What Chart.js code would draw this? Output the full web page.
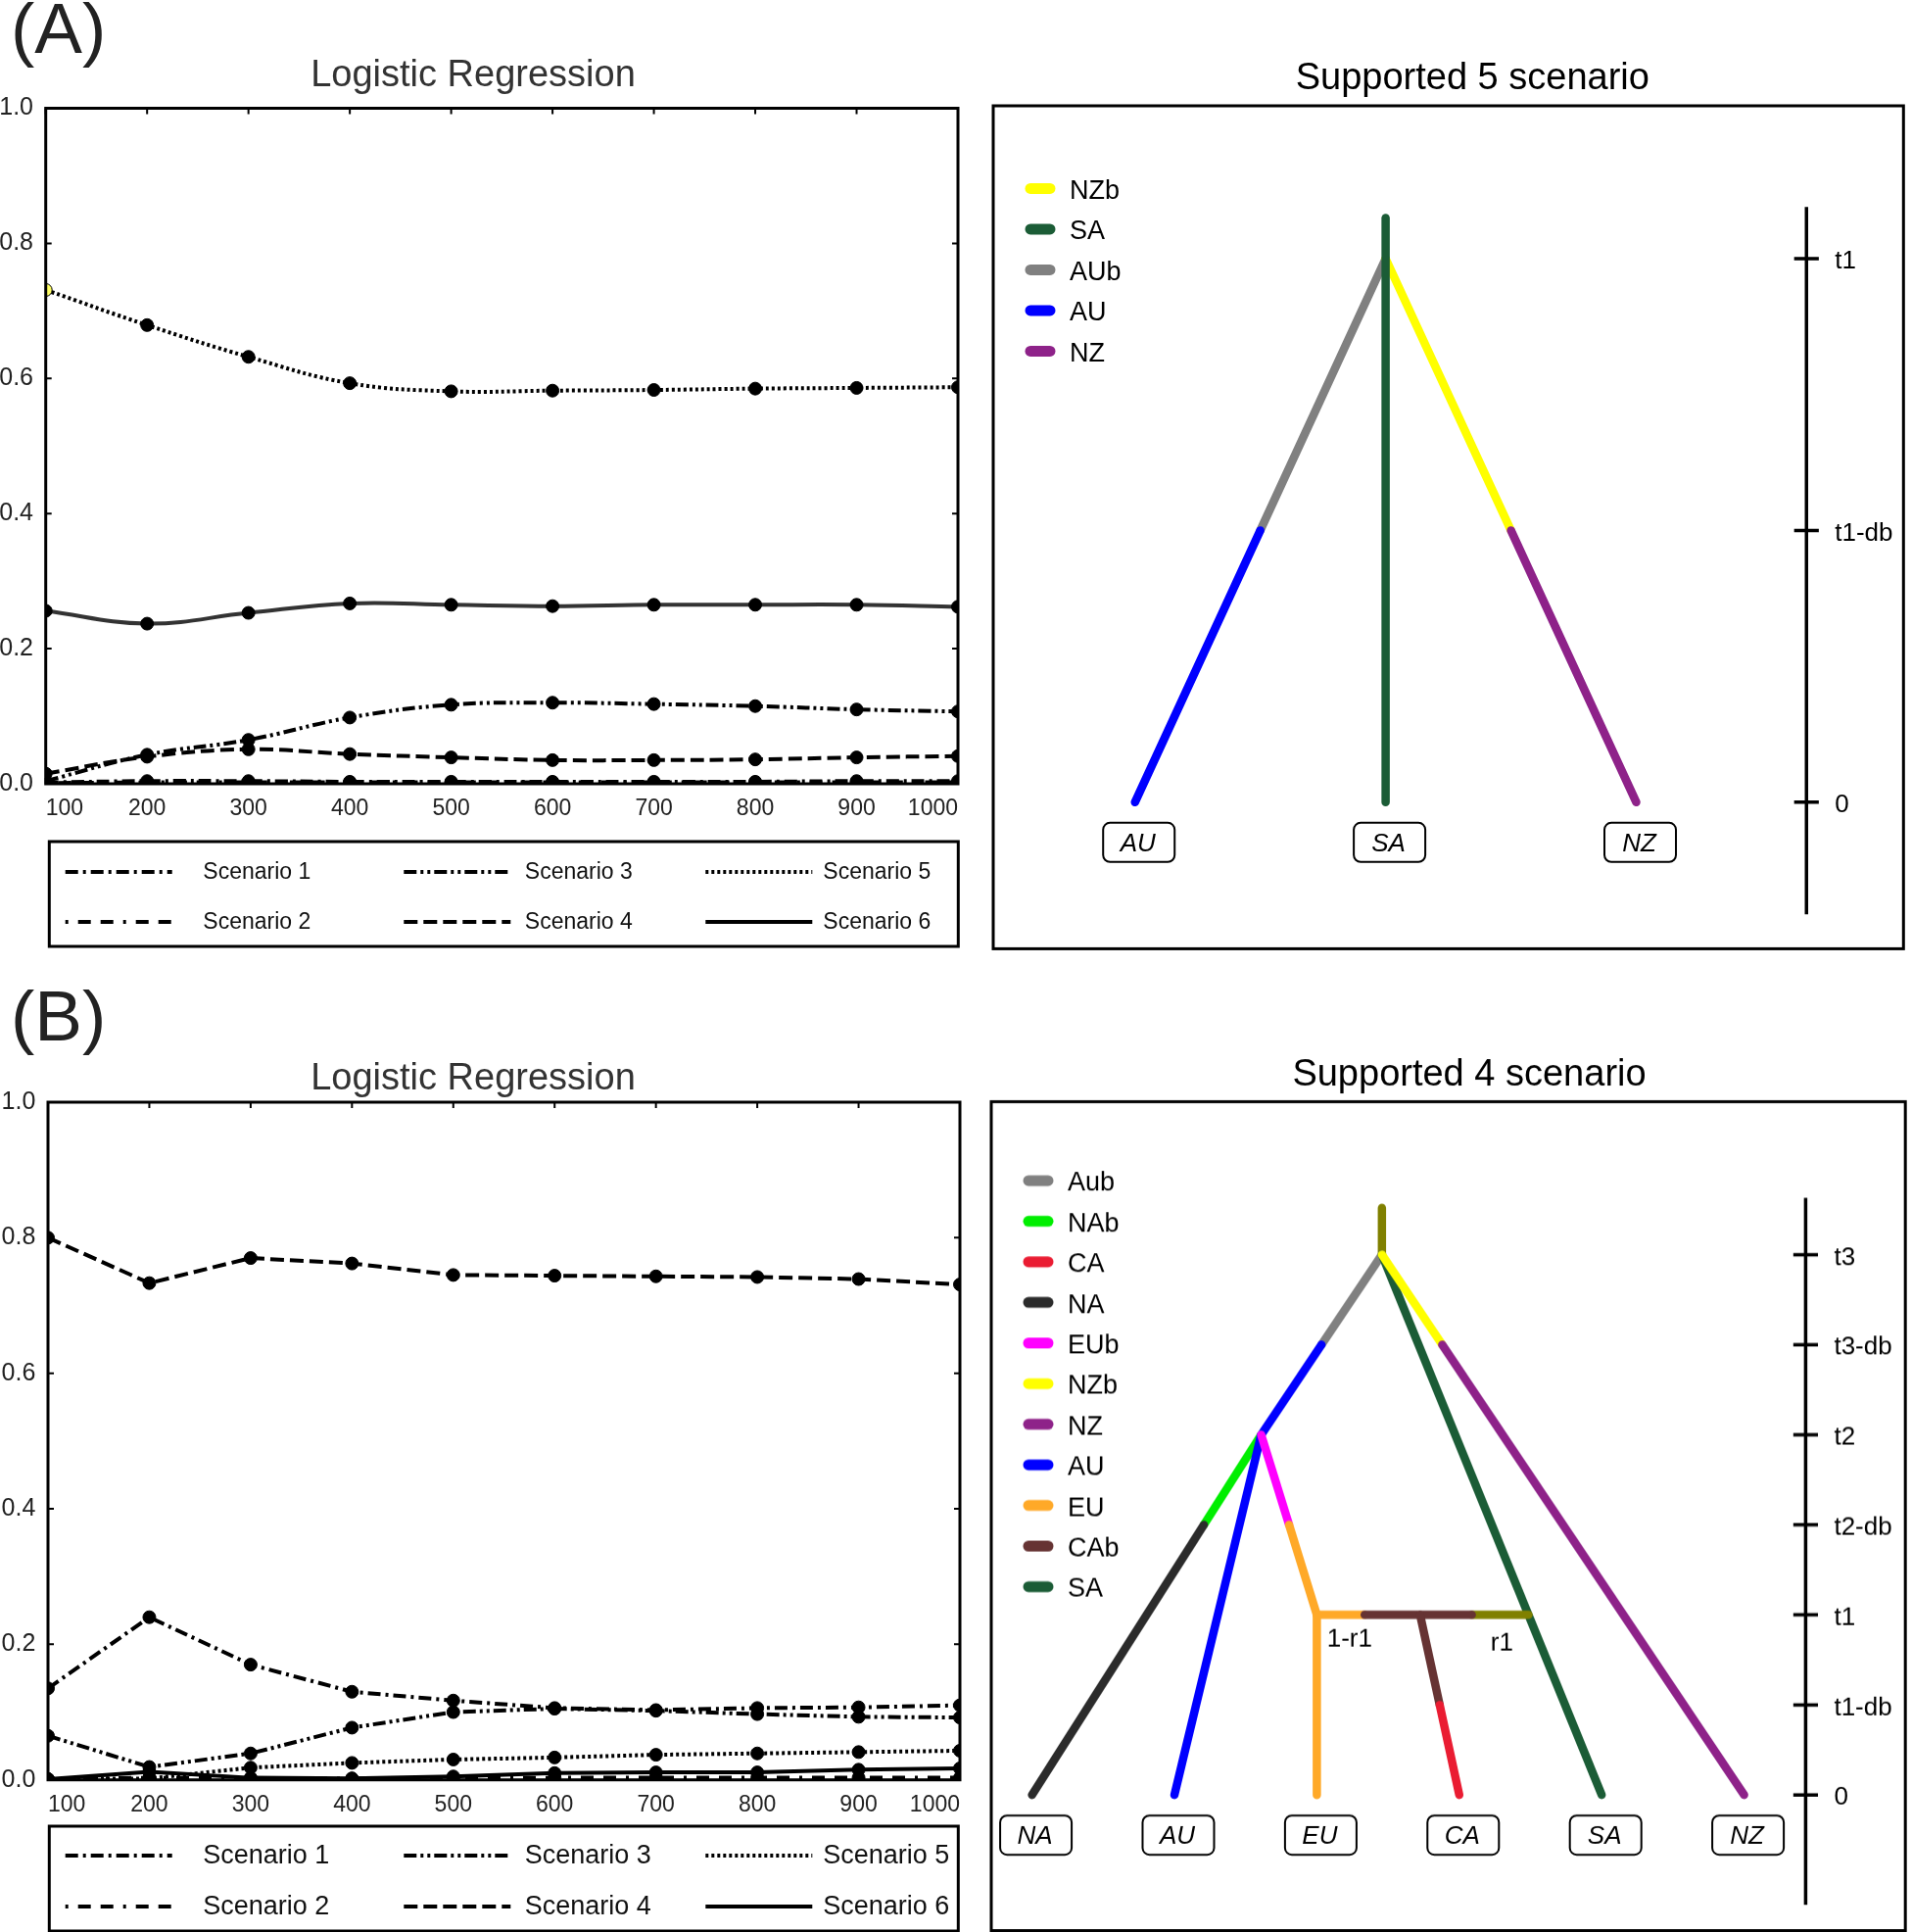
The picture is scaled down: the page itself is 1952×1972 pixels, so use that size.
<!DOCTYPE html>
<html lang="en">
<head>
    <meta charset="UTF-8">
    <title>Logistic Regression and supported scenarios</title>
    <script src="https://cdn.jsdelivr.net/npm/chart.js"></script>
    <style>
        body {
            margin: 0;
            background: #ffffff;
            width: 1952px;
            height: 1972px;
            position: relative;
            overflow: hidden;
            font-family: 'Liberation Sans', Arial, sans-serif;
        }
        .panel-label {
            position: absolute;
            font-size: 73px;
            line-height: 1;
            color: #222;
        }
        .chart-box {
            position: absolute;
        }
    </style>
</head>
<body>
    <div class="panel-label" style="left:11px; top:-8px;">(A)</div>
    <div class="panel-label" style="left:11px; top:1000px;">(B)</div>

    <div class="chart-box" style="left:-12px; top:40px; width:992px; height:935px;"><canvas id="lrA"></canvas></div>
    <div class="chart-box" style="left:1011.7px; top:40px; width:980.6px; height:932.4px;"><canvas id="treeA"></canvas></div>
    <div class="chart-box" style="left:-14px; top:1060px; width:996px; height:912px;"><canvas id="lrB"></canvas></div>
    <div class="chart-box" style="left:1010.4px; top:1060px; width:978px; height:911.6px;"><canvas id="treeB"></canvas></div>

    <script>
        const FONT = "'Liberation Sans', Arial, sans-serif";
        Chart.defaults.font.family = FONT;
        Chart.defaults.color = '#222';
        Chart.defaults.animation = false;

        // ---- logistic regression data ----
        const sampleSizes = [100, 200, 300, 400, 500, 600, 700, 800, 900, 1000];
        const scenarioLabels = ['Scenario 1', 'Scenario 2', 'Scenario 3', 'Scenario 4', 'Scenario 5', 'Scenario 6'];

        // panel (A)
        const a_scen1 = [0.002, 0.004, 0.004, 0.003, 0.003, 0.003, 0.003, 0.003, 0.004, 0.004];
        const a_scen2 = [0.001, 0.002, 0.002, 0.002, 0.002, 0.002, 0.002, 0.002, 0.002, 0.002];
        const a_scen3 = [0.004, 0.043, 0.065, 0.098, 0.117, 0.120, 0.118, 0.115, 0.110, 0.107];
        const a_scen4 = [0.015, 0.040, 0.051, 0.044, 0.039, 0.035, 0.035, 0.036, 0.039, 0.041];
        const a_scen5 = [0.731, 0.679, 0.632, 0.593, 0.581, 0.582, 0.583, 0.585, 0.586, 0.587];
        const a_scen6 = [0.256, 0.237, 0.253, 0.267, 0.265, 0.263, 0.265, 0.265, 0.265, 0.262];

        // panel (B)
        const b_scen1 = [0.135, 0.240, 0.170, 0.130, 0.117, 0.106, 0.103, 0.106, 0.107, 0.110];
        const b_scen2 = [0.001, 0.003, 0.002, 0.002, 0.002, 0.003, 0.003, 0.003, 0.003, 0.003];
        const b_scen3 = [0.065, 0.019, 0.039, 0.077, 0.100, 0.105, 0.102, 0.097, 0.093, 0.092];
        const b_scen4 = [0.800, 0.733, 0.770, 0.762, 0.745, 0.744, 0.743, 0.742, 0.739, 0.731];
        const b_scen5 = [0.001, 0.002, 0.018, 0.025, 0.030, 0.033, 0.037, 0.039, 0.041, 0.043];
        const b_scen6 = [0.001, 0.012, 0.003, 0.002, 0.005, 0.010, 0.011, 0.011, 0.015, 0.017];

        // ---- trees ----
        const treeA_tips = ['AU', 'SA', 'NZ'];
        const treeA_times = [0, 1, 2];
        const treeA_timeLabels = ['0', 't1-db', 't1'];
        const treeA_legend = ['NZb', 'SA', 'AUb', 'AU', 'NZ'];
        // [lineage, x0, t0, x1, t1]  (x in tip index units, t in time steps)
        const treeA_branches = [
            ['AUb', 1, 2, 0.5, 1],
            ['AU', 0.5, 1, 0, 0],
            ['NZb', 1, 2, 1.5, 1],
            ['NZ', 1.5, 1, 2, 0],
            ['SA', 1, 0, 1, 2.149]
        ];

        const treeB_tips = ['NA', 'AU', 'EU', 'CA', 'SA', 'NZ'];
        const treeB_times = [0, 1, 2, 3, 4, 5, 6];
        const treeB_timeLabels = ['0', 't1-db', 't1', 't2-db', 't2', 't3-db', 't3'];
        const treeB_legend = ['Aub', 'NAb', 'CA', 'NA', 'EUb', 'NZb', 'NZ', 'AU', 'EU', 'CAb', 'SA'];
        const treeB_branches = [
            ['anc', 2.457, 6, 2.457, 6.52],
            ['Aub', 2.457, 6, 2.033, 5],
            ['AU', 2.033, 5, 1.609, 4],
            ['SA', 2.457, 6, 4, 0],
            ['NZb', 2.457, 6, 2.88, 5],
            ['NZ', 2.88, 5, 5, 0],
            ['NAb', 1.609, 4, 1.207, 3],
            ['NA', 1.207, 3, 0, 0],
            ['AU', 1.609, 4, 1, 0],
            ['EUb', 1.609, 4, 1.805, 3],
            ['EU', 1.805, 3, 2, 2],
            ['EU', 2, 2, 2, 0],
            ['EU', 2, 2, 2.336, 2],
            ['anc', 3.088, 2, 3.486, 2],
            ['CAb', 2.336, 2, 3.088, 2],
            ['CAb', 2.725, 2, 2.8625, 1],
            ['CA', 2.8625, 1, 3, 0]
        ];
        const treeB_notes = [['1-r1', 2.23, 1.73], ['r1', 3.30, 1.68]];

        // styles
        const scenarioDash = [[13, 5, 3, 5], [3, 10, 13, 10, 13, 10], [13, 4, 3, 4, 3, 4], [14, 6], [3, 3], []];
        const lineageColors = {
            NZb: '#ffff00', SA: '#1b5c36', AUb: '#808080', Aub: '#808080', AU: '#0000ff',
            NZ: '#8e2289', NAb: '#00ee00', CA: '#ea1c32', NA: '#2b2b2b', EUb: '#ff00ff',
            EU: '#ffa928', CAb: '#663333', anc: '#808000'
        };

        function lrChart(id, series, lay) {
            const frame = {
                id: 'lrFrame',
                afterDraw(chart) {
                    const { ctx, chartArea: a, scales: { x, y } } = chart;
                    ctx.save();
                    ctx.strokeStyle = '#000';
                    ctx.lineWidth = 3;
                    ctx.strokeRect(a.left, a.top, a.right - a.left, a.bottom - a.top);
                    // inward tick marks
                    ctx.lineWidth = 2;
                    ctx.beginPath();
                    x.ticks.forEach(t => {
                        const px = x.getPixelForValue(t.value);
                        ctx.moveTo(px, a.top); ctx.lineTo(px, a.top + 6);
                        ctx.moveTo(px, a.bottom); ctx.lineTo(px, a.bottom - 6);
                    });
                    y.ticks.forEach(t => {
                        const py = y.getPixelForValue(t.value);
                        ctx.moveTo(a.left, py); ctx.lineTo(a.left + 6, py);
                        ctx.moveTo(a.right, py); ctx.lineTo(a.right - 6, py);
                    });
                    ctx.stroke();

                    // legend box (3 columns x 2 rows)
                    const bx = a.left + lay.boxLeft, by = a.bottom + lay.boxTop;
                    ctx.lineWidth = 3;
                    ctx.strokeRect(bx, by, 928, 107);
                    const lineX = [16.4, 362, 670], textX = [157, 485.5, 790];
                    chart.data.datasets.forEach((ds, i) => {
                        const col = Math.floor(i / 2), row = i % 2;
                        const yy = by + lay.rows[row];
                        ctx.setLineDash(ds.borderDash);
                        ctx.strokeStyle = '#000';
                        ctx.lineWidth = 4;
                        ctx.beginPath();
                        ctx.moveTo(bx + lineX[col], yy);
                        ctx.lineTo(bx + lineX[col] + 109, yy);
                        ctx.stroke();
                        ctx.setLineDash([]);
                        ctx.fillStyle = '#111';
                        ctx.font = lay.legendFont + 'px ' + FONT;
                        ctx.textAlign = 'left';
                        ctx.textBaseline = 'middle';
                        ctx.fillText(ds.label, bx + textX[col], yy + 1);
                    });
                    ctx.restore();
                }
            };

            return new Chart(document.getElementById(id), {
                type: 'line',
                data: {
                    datasets: series.map((vals, i) => ({
                        label: scenarioLabels[i],
                        data: vals.map((v, j) => ({ x: sampleSizes[j], y: v })),
                        borderColor: (lay.smooth && i === 5) ? '#333' : '#000',
                        borderWidth: 4,
                        borderDash: scenarioDash[i],
                        pointRadius: 6.5,
                        pointBackgroundColor: (lay.firstYellow && i === 4)
                            ? vals.map((v, j) => j === 0 ? '#ffff66' : '#000') : '#000',
                        pointBorderColor: '#000',
                        pointBorderWidth: 1,
                        tension: lay.smooth ? 0.4 : 0,
                        fill: false
                    }))
                },
                options: {
                    responsive: true,
                    maintainAspectRatio: false,
                    layout: { autoPadding: false, padding: { left: 0, right: 2, top: 0, bottom: lay.padBottom } },
                    plugins: {
                        legend: { display: false },
                        tooltip: { enabled: false },
                        title: {
                            display: true,
                            text: 'Logistic Regression',
                            color: '#333',
                            font: { size: 38, weight: 'normal' },
                            padding: { top: lay.titleTop, bottom: lay.titleBottom }
                        }
                    },
                    scales: {
                        x: {
                            type: 'linear', min: 100, max: 1000,
                            grid: { display: false, drawTicks: false },
                            border: { display: false },
                            ticks: { stepSize: 100, align: 'inner', maxRotation: 0, padding: 12, color: '#222', font: { size: 23 }, callback: v => String(v) },
                            afterFit: s => { s.height = 40; s.paddingLeft = 0; s.paddingRight = 0; }
                        },
                        y: {
                            min: 0, max: 1,
                            grid: { display: false, drawTicks: false },
                            border: { display: false },
                            ticks: { stepSize: 0.2, padding: 12.7, color: '#222', font: { size: 25 }, callback: v => v.toFixed(1) },
                            afterFit: s => { s.width = lay.yWidth; }
                        }
                    }
                },
                plugins: [frame]
            });
        }

        function treeChart(id, tree) {
            const decor = {
                id: 'treeDecor',
                afterDraw(chart) {
                    const { ctx, chartArea: a, scales: { x, y } } = chart;
                    ctx.save();
                    ctx.strokeStyle = '#000';
                    ctx.lineWidth = 3;
                    ctx.strokeRect(a.left, a.top, a.right - a.left, a.bottom - a.top);

                    // colour legend
                    ctx.lineCap = 'round';
                    ctx.textAlign = 'left';
                    ctx.textBaseline = 'middle';
                    ctx.font = '27px ' + FONT;
                    tree.legend.forEach((name, i) => {
                        const yy = a.top + tree.legendTop + i * tree.legendGap;
                        ctx.strokeStyle = lineageColors[name];
                        ctx.lineWidth = 11;
                        ctx.beginPath();
                        ctx.moveTo(a.left + 38, yy);
                        ctx.lineTo(a.left + 58, yy);
                        ctx.stroke();
                        ctx.fillStyle = '#000';
                        ctx.fillText(name, a.left + 78, yy + 3);
                    });

                    // tip boxes
                    ctx.lineCap = 'butt';
                    ctx.lineWidth = 2;
                    ctx.strokeStyle = '#000';
                    ctx.textAlign = 'center';
                    ctx.font = 'italic 26px ' + FONT;
                    const y0 = y.getPixelForValue(0);
                    tree.tips.forEach((name, i) => {
                        const cx = x.getPixelForValue(i) + 4;
                        const top = y0 + 21;
                        ctx.beginPath();
                        ctx.roundRect(cx - 36.5, top, 73, 40, 7);
                        ctx.stroke();
                        ctx.fillStyle = '#000';
                        ctx.fillText(name, cx - 1, top + 22);
                    });

                    // time axis labels
                    ctx.textAlign = 'left';
                    ctx.font = '26px ' + FONT;
                    const ax = x.getPixelForValue(tree.axisX);
                    tree.times.forEach((t, i) => {
                        ctx.fillText(tree.timeLabels[i], ax + 29, y.getPixelForValue(t) + 3);
                    });

                    // admixture notes
                    ctx.textAlign = 'center';
                    (tree.notes || []).forEach(n => {
                        ctx.fillText(n[0], x.getPixelForValue(n[1]), y.getPixelForValue(n[2]));
                    });
                    ctx.restore();
                }
            };

            const datasets = tree.branches.map((b, i) => ({
                label: b[0],
                data: [{ x: b[1], y: b[2] }, { x: b[3], y: b[4] }],
                borderColor: lineageColors[b[0]],
                borderWidth: 8.5,
                borderCapStyle: 'round',
                showLine: true,
                pointRadius: 0,
                order: -i
            }));
            datasets.push({
                label: 'time axis',
                data: [{ x: tree.axisX, y: tree.axisFrom }, { x: tree.axisX, y: tree.axisTo }],
                borderColor: '#000',
                borderWidth: 3.5,
                showLine: true,
                pointRadius: 0,
                order: 10
            });
            datasets.push({
                label: 'time ticks',
                data: tree.times.map(t => ({ x: tree.axisX, y: t })),
                pointStyle: 'line',
                pointRadius: 12.6,
                pointBorderWidth: 3.5,
                pointBorderColor: '#000',
                showLine: false,
                order: 10
            });

            return new Chart(document.getElementById(id), {
                type: 'scatter',
                data: { datasets },
                options: {
                    responsive: true,
                    maintainAspectRatio: false,
                    layout: { autoPadding: false, padding: { left: 2, right: 0, top: 0, bottom: tree.padBottom } },
                    plugins: {
                        legend: { display: false },
                        tooltip: { enabled: false },
                        title: {
                            display: true,
                            text: tree.title,
                            color: '#000',
                            font: { size: 38, weight: 'normal' },
                            padding: { top: tree.titleTop, bottom: tree.titleBottom }
                        }
                    },
                    scales: {
                        x: { type: 'linear', display: false, min: tree.xMin, max: tree.xMax },
                        y: { type: 'linear', display: false, min: tree.yMin, max: tree.yMax },
                        pad: {
                            type: 'linear', axis: 'y', position: 'right', display: true,
                            grid: { display: false, drawTicks: false },
                            border: { display: false },
                            ticks: { display: false },
                            afterFit: s => { s.width = tree.rightGap; }
                        }
                    }
                },
                plugins: [decor]
            });
        }

        lrChart('lrA', [a_scen1, a_scen2, a_scen3, a_scen4, a_scen5, a_scen6], {
            yWidth: 58.7, padBottom: 135, titleTop: 15.2, titleBottom: 9.7,
            boxLeft: 3.6, boxTop: 59, rows: [31, 82], legendFont: 23, smooth: true, firstYellow: true
        });
        lrChart('lrB', [b_scen1, b_scen2, b_scen3, b_scen4, b_scen5, b_scen6], {
            yWidth: 63, padBottom: 115.3, titleTop: 18.9, titleBottom: 0.5,
            boxLeft: 1.3, boxTop: 47.3, rows: [30, 82], legendFont: 27, smooth: false, firstYellow: false
        });

        treeChart('treeA', {
            title: 'Supported 5 scenario', tips: treeA_tips, times: treeA_times, timeLabels: treeA_timeLabels,
            legend: treeA_legend, branches: treeA_branches,
            xMin: -0.5655, xMax: 3.066, yMin: -0.539, yMax: 2.562,
            axisX: 2.679, axisFrom: -0.412, axisTo: 2.19,
            legendTop: 84.4, legendGap: 41.5, rightGap: 49.3, padBottom: 4, titleTop: 17.7, titleBottom: 4.7
        });
        treeChart('treeB', {
            title: 'Supported 4 scenario', tips: treeB_tips, times: treeB_times, timeLabels: treeB_timeLabels,
            legend: treeB_legend, branches: treeB_branches, notes: treeB_notes,
            xMin: -0.286, xMax: 6.132, yMin: -1.508, yMax: 7.70,
            axisX: 5.432, axisFrom: -1.22, axisTo: 6.63,
            legendTop: 80.5, legendGap: 41.4, rightGap: 42.8, padBottom: 2, titleTop: 15.2, titleBottom: 3.6
        });
    </script>
</body>
</html>
